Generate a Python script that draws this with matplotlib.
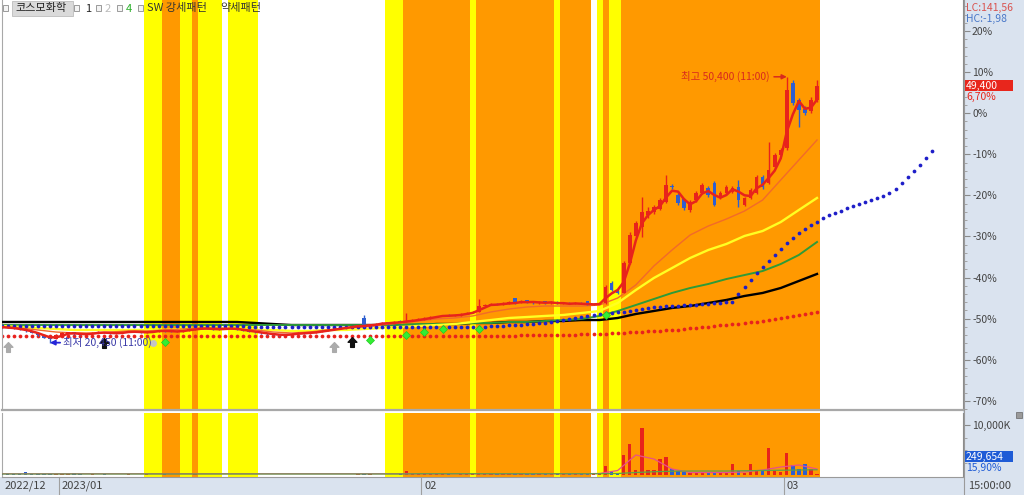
import numpy as np
import pandas as pd
import matplotlib
matplotlib.use("Agg")
import matplotlib.pyplot as plt
from matplotlib.patches import Rectangle
from matplotlib.lines import Line2D
from matplotlib.path import Path
from matplotlib.ticker import FixedLocator, FuncFormatter, NullFormatter
import matplotlib.transforms as mtransforms

plt.rcParams['font.family'] = ['Noto Sans CJK KR', 'DejaVu Sans']
plt.rcParams['axes.unicode_minus'] = False

# ---------------- data (2-hour bars, 3 per trading day) ----------------
stock_name = "코스모화학"
base_price = 46300          # price at 0 % on the right axis
month_labels = ["2022/12", "2023/01", "02", "03"]
month_start_bar = [0, 10, 70, 130]
last_time = "15:00:00"

opens = [22300, 22200, 22050, 22000, 21850, 21750, 21500, 21250, 21000, 20900,
         21300, 21450, 21600, 21400, 21350, 21450, 21550, 21650, 21550, 21450,
         21550, 21650, 21750, 21650, 21550, 21650, 21750, 21850, 21750, 21650,
         21750, 21850, 21950, 22000, 22100, 22000, 21900, 22000, 22100, 22000,
         21900, 21800, 21700, 21600, 21500, 21400, 21350, 21300, 21350, 21450,
         21550, 21500, 21600, 21700, 21800, 21900, 22000, 22100, 22200, 22300,
         23200, 22300, 22500, 22600, 22750, 22600, 22850, 22800, 22900, 23000,
         23100, 23200, 23350, 23450, 23600, 23450, 23550, 23700, 23800, 23950,
         24600, 24700, 24850, 24700, 24900, 25450, 24950, 25250, 25050, 24900,
         25100, 24900, 25050, 24800, 24950, 24800, 24950, 25100, 24700, 24800,
         24900, 27150, 26350, 26100, 29400, 32500, 33500, 34800, 35200, 35500,
         36300, 38050, 37100, 36600, 35400, 36500, 37300, 37900, 38400, 36750,
         37300, 37400, 38000, 35950, 36750, 37300, 39100, 38450, 40250, 41600,
         42400, 49700, 47800, 46800, 46500, 47800]
highs = [22400, 22250, 22150, 22050, 21950, 21800, 21550, 21300, 21050, 21400,
         21600, 21700, 21650, 21450, 21550, 21650, 21750, 21700, 21600, 21600,
         21700, 21800, 21800, 21700, 21700, 21800, 21900, 21900, 21800, 21800,
         21900, 22000, 22100, 22200, 22150, 22050, 22050, 22200, 22150, 22050,
         21950, 21850, 21750, 21650, 21550, 21450, 21400, 21400, 21500, 21600,
         21600, 21650, 21750, 21850, 21950, 22050, 22150, 22250, 22350, 22450,
         23550, 22550, 22650, 22800, 22800, 22850, 23000, 23800, 23100, 23200,
         23300, 23400, 23500, 23600, 23650, 23600, 23750, 23850, 24000, 25400,
         24800, 24900, 24900, 25000, 25100, 25500, 25300, 25300, 25100, 25150,
         25150, 25100, 25100, 25000, 25000, 25000, 25000, 25200, 24900, 25000,
         26900, 27400, 26400, 29600, 32900, 34100, 36850, 35700, 36000, 36700,
         39350, 38300, 37300, 36700, 36500, 37500, 38400, 38100, 38700, 37500,
         38200, 38100, 38800, 36900, 37900, 39300, 39300, 43100, 41800, 42400,
         50400, 50000, 48000, 47100, 48100, 50050]
lows = [22150, 22050, 21950, 21850, 21700, 21500, 21250, 20950, 20450, 20850,
        21250, 21400, 21350, 21300, 21300, 21400, 21500, 21500, 21400, 21400,
        21500, 21600, 21600, 21500, 21500, 21600, 21700, 21700, 21600, 21600,
        21700, 21800, 21900, 21950, 21950, 21850, 21850, 21950, 21950, 21850,
        21750, 21650, 21550, 21450, 21350, 21300, 21250, 21250, 21300, 21400,
        21450, 21450, 21550, 21650, 21750, 21850, 21950, 22050, 22150, 22250,
        22250, 22250, 22450, 22550, 22550, 22550, 22750, 22750, 22850, 22950,
        23050, 23150, 23300, 23400, 23400, 23400, 23500, 23650, 23750, 23900,
        24550, 24650, 24650, 24650, 24850, 24750, 24900, 24950, 24850, 24850,
        24850, 24850, 24750, 24750, 24750, 24750, 24750, 24650, 24650, 24750,
        24850, 26300, 25950, 26000, 29300, 32300, 32350, 34500, 35000, 35400,
        36200, 37800, 36000, 35400, 35200, 36300, 37200, 36900, 35800, 36600,
        37200, 37300, 35750, 35800, 36600, 37200, 37800, 38300, 40100, 41500,
        42200, 47200, 44750, 46100, 46300, 47600]
closes = [22200, 22100, 22000, 21900, 21750, 21550, 21300, 21000, 20850, 21300,
          21500, 21600, 21400, 21350, 21450, 21550, 21650, 21550, 21450, 21550,
          21650, 21750, 21650, 21550, 21650, 21750, 21850, 21750, 21650, 21750,
          21850, 21950, 22000, 22100, 22000, 21900, 22000, 22100, 22000, 21900,
          21800, 21700, 21600, 21500, 21400, 21350, 21300, 21350, 21450, 21550,
          21500, 21600, 21700, 21800, 21900, 22000, 22100, 22200, 22300, 22400,
          22300, 22500, 22600, 22700, 22600, 22800, 22800, 22900, 23000, 23100,
          23200, 23350, 23450, 23550, 23450, 23550, 23700, 23800, 23900, 24600,
          24700, 24800, 24700, 24900, 25000, 24850, 25200, 25000, 24900, 25050,
          24900, 25000, 24800, 24900, 24800, 24900, 24800, 24700, 24800, 24900,
          26700, 26400, 26050, 29400, 32550, 33900, 35200, 35300, 35700, 36500,
          38200, 38000, 36200, 35600, 36300, 37300, 38200, 37100, 35950, 37300,
          38000, 37900, 36500, 36750, 37650, 39100, 38000, 39900, 41600, 42150,
          48900, 47450, 46650, 46300, 47800, 49400]
volumes = [150000, 200000, 150000, 250000, 550000, 200000, 150000, 200000, 250000, 150000,
           200000, 150000, 350000, 150000, 100000, 150000, 100000, 150000, 100000, 100000,
           100000, 150000, 100000, 100000, 150000, 100000, 100000, 250000, 100000, 100000,
           100000, 100000, 150000, 100000, 100000, 100000, 100000, 100000, 100000, 100000,
           100000, 100000, 100000, 100000, 100000, 100000, 100000, 100000, 100000, 100000,
           100000, 100000, 100000, 100000, 100000, 100000, 100000, 100000, 100000, 200000,
           250000, 150000, 100000, 100000, 100000, 100000, 200000, 800000, 300000, 200000,
           150000, 200000, 150000, 150000, 150000, 100000, 150000, 150000, 200000, 400000,
           250000, 200000, 150000, 200000, 250000, 300000, 250000, 200000, 150000, 150000,
           150000, 150000, 150000, 150000, 150000, 200000, 200000, 300000, 200000, 200000,
           1800000, 700000, 400000, 4000000, 6300000, 1000000, 9500000, 1000000, 1100000, 3300000,
           3700000, 1200000, 800000, 600000, 400000, 500000, 500000, 400000, 500000, 400000,
           500000, 2200000, 800000, 500000, 2200000, 1000000, 800000, 5500000, 900000, 700000,
           4500000, 2100000, 1300000, 2200000, 1200000, 249654]

# moving averages, one value per trading day (every third bar)
ma_orange = [22220, 22100, 21880, 21650, 21540, 21540, 21650, 21770, 21770, 21880,
             21990, 22100, 22100, 21990, 21880, 21650, 21540, 21650, 21880, 22100,
             22220, 22440, 22670, 22890, 23120, 23230, 23460, 23910, 24240, 24470,
             24580, 24580, 24580, 24690, 25480, 26950, 29090, 30890, 32580, 33590,
             34380, 35280, 36520, 38780, 41030, 43280]
ma_yellow = [22330, 22220, 22100, 21990, 21880, 21880, 21880, 21880, 21880, 21880,
             21990, 21990, 21990, 21990, 21880, 21880, 21770, 21770, 21880, 21880,
             21990, 22100, 22220, 22330, 22440, 22550, 22780, 23000, 23230, 23340,
             23460, 23570, 23790, 24020, 24920, 26380, 27740, 28860, 29990, 30890,
             31570, 32470, 33030, 34040, 35400, 36750]
ma_green = [22440, 22440, 22440, 22440, 22440, 22440, 22440, 22440, 22440, 22440,
            22440, 22440, 22440, 22440, 22440, 22440, 22440, 22440, 22440, 22440,
            22440, 22440, 22440, 22550, 22550, 22550, 22670, 22670, 22780, 22780,
            22890, 23000, 23120, 23460, 24020, 24690, 25370, 26050, 26610, 27060,
            27620, 28070, 28520, 29310, 30330, 31790]
ma_black = [22780, 22780, 22780, 22780, 22780, 22780, 22780, 22780, 22780, 22780,
            22780, 22780, 22780, 22780, 22670, 22550, 22440, 22440, 22440, 22440,
            22440, 22440, 22440, 22440, 22550, 22550, 22670, 22670, 22780, 22780,
            22890, 22890, 23000, 23000, 23230, 23680, 24020, 24360, 24580, 24920,
            25260, 25710, 26050, 26610, 27400, 28190]
vol_ma_pink = [250000, 250000, 250000, 250000, 250000, 250000, 250000, 250000, 250000, 250000,
               250000, 250000, 250000, 250000, 250000, 250000, 250000, 250000, 250000, 250000,
               250000, 250000, 250000, 250000, 250000, 250000, 250000, 250000, 250000, 250000,
               250000, 250000, 250000, 300000, 900000, 4000000, 3200000, 1200000, 500000, 500000,
               500000, 600000, 1000000, 1600000, 2000000, 1200000]
vol_ma_green = [200000, 200000, 200000, 200000, 200000, 200000, 200000, 200000, 200000, 200000,
                200000, 200000, 200000, 200000, 200000, 200000, 200000, 200000, 200000, 200000,
                200000, 200000, 200000, 250000, 250000, 250000, 250000, 250000, 250000, 250000,
                250000, 250000, 250000, 250000, 300000, 500000, 650000, 750000, 800000, 800000,
                800000, 850000, 900000, 950000, 1000000, 1050000]

# blue dotted indicator (runs 19 bars ahead of the last candle)
blue_dots = [22330, 22330, 22330, 22330, 22330, 22330, 22330, 22330, 22330, 22330,
             22330, 22330, 22330, 22330, 22330, 22330, 22330, 22330, 22330, 22330,
             22330, 22330, 22330, 22330, 22330, 22330, 22330, 22330, 22330, 22330,
             22330, 22330, 22330, 22330, 22330, 22330, 22330, 22330, 22330, 22330,
             22330, 22220, 22220, 22220, 22220, 22220, 22220, 22220, 22220, 22220,
             22220, 22220, 22220, 22220, 22220, 22220, 22220, 22220, 22220, 22220,
             22220, 22220, 22220, 22220, 22220, 22220, 22220, 22220, 22220, 22220,
             22220, 22220, 22220, 22220, 22220, 22220, 22220, 22220, 22220, 22220,
             22220, 22330, 22330, 22330, 22440, 22440, 22440, 22550, 22550, 22670,
             22670, 22780, 22890, 23000, 23120, 23230, 23340, 23460, 23570, 23680,
             23790, 23790, 23910, 23910, 24020, 24130, 24240, 24360, 24470, 24470,
             24580, 24580, 24580, 24690, 24690, 24690, 24810, 24810, 24920, 24920,
             25030, 25030, 25930, 26720, 27510, 28300, 28980, 29650, 30330, 31000,
             31680, 32240, 32800, 33260, 33710, 34040, 34500, 34830, 35060, 35280,
             35620, 35850, 36070, 36300, 36520, 36750, 36970, 37310, 37760, 38440,
             39110, 39790, 40470, 41260, 42040]
# red dotted long average
red_dots = [21200, 21200, 21200, 21200, 21200, 21200, 21200, 21200, 21200, 21200,
            21200, 21200, 21200, 21200, 21200, 21200, 21200, 21200, 21200, 21200,
            21200, 21200, 21200, 21200, 21200, 21200, 21200, 21200, 21200, 21200,
            21200, 21200, 21200, 21200, 21200, 21200, 21200, 21200, 21200, 21200,
            21200, 21200, 21200, 21200, 21200, 21200, 21200, 21200, 21200, 21200,
            21200, 21200, 21200, 21200, 21200, 21200, 21200, 21200, 21200, 21200,
            21200, 21200, 21200, 21200, 21200, 21200, 21200, 21200, 21200, 21200,
            21200, 21200, 21200, 21200, 21200, 21200, 21250, 21250, 21250, 21250,
            21250, 21250, 21250, 21250, 21250, 21250, 21320, 21320, 21320, 21320,
            21320, 21320, 21320, 21320, 21320, 21320, 21430, 21430, 21430, 21430,
            21430, 21540, 21540, 21540, 21650, 21650, 21650, 21770, 21770, 21770,
            21880, 21880, 21880, 21990, 22050, 22100, 22160, 22220, 22330, 22390,
            22440, 22500, 22560, 22670, 22730, 22780, 22890, 23000, 23120, 23230,
            23340, 23460, 23570, 23680, 23790, 23910]

# pattern bands (bar ranges, inclusive)
band_start = [24, 27, 30, 32, 33, 38, 64, 67, 78, 79, 92, 93, 99, 100, 101, 103]
band_end = [26, 29, 31, 32, 36, 42, 66, 77, 78, 91, 92, 97, 99, 100, 102, 135]
band_kind = ["Y", "O", "Y", "O", "Y", "Y", "Y", "O", "Y", "O", "Y", "O", "Y", "O", "Y", "O"]

# signal markers
sig_gray_bar = [1, 55]
sig_gray_price = [19960, 19960]
sig_black_bar = [17, 58]
sig_black_price = [20410, 20530]
sig_green_bar = [27, 61, 67, 70, 73, 79, 100]
sig_green_price = [20530, 20750, 21310, 21650, 21990, 21990, 23570]
sig_circle_bar = [25]
sig_circle_price = [20410]

low_bar, low_price, low_time = 8, 20450, "11:00"
high_bar, high_price, high_time = 130, 50400, "11:00"

lc_text = "LC:141,56"
hc_text = "HC:-1,98"
vol_ratio_text = "15,90%"

# ---------------- layout ----------------
W, H = 1024, 495
fig = plt.figure(figsize=(W / 100, H / 100), dpi=100)
fig.patch.set_facecolor("white")


def fx(px):
    return px / W


def fy(py):
    return 1 - py / H


PANEL = "#DAE3EF"
fig.add_artist(Rectangle((fx(963), 0), 1 - fx(963), 1, transform=fig.transFigure,
                         fc=PANEL, ec="none", zorder=-10))
fig.add_artist(Rectangle((0, 0), 1, fy(477), transform=fig.transFigure,
                         fc=PANEL, ec="none", zorder=-10))

PL, PR = 2, 963
PITCH, X0 = 6.04, 1.6
ax = fig.add_axes([fx(PL), fy(410), fx(PR) - fx(PL), 410 / H])
axv = fig.add_axes([fx(PL), fy(477), fx(PR) - fx(PL), (477 - 413) / H])
for a in (ax, axv):
    a.set_xlim((PL - X0) / PITCH, (PR - X0) / PITCH)
    a.set_facecolor("white")
ax.set_ylim(12865, 59052)
axv.set_ylim(-400000, 12400000)

o = np.array(opens, float)
h = np.array(highs, float)
l = np.array(lows, float)
c = np.array(closes, float)
v = np.array(volumes, float)
idx = np.arange(len(c))
ma_x = idx[::3]

# bands
band_col = {"Y": "#FFFF00", "O": "#FF9900"}
for s, e, k in zip(band_start, band_end, band_kind):
    for a in (ax, axv):
        a.axvspan(s - 0.5, e + 0.5, color=band_col[k], lw=0, zorder=0)

# indicator lines
ax.plot(np.arange(len(red_dots)), red_dots, ls="none", marker="o", ms=2.7,
        mfc="#E8221E", mec="none", zorder=2)
ax.plot(ma_x, ma_black, color="black", lw=1.7, zorder=3)
ax.plot(ma_x, ma_green, color="#2E9B38", lw=1.4, zorder=3)
ax.plot(ma_x, ma_yellow, color="#FFFF22", lw=1.7, zorder=3)
ax.plot(ma_x, ma_orange, color="#F26A2A", lw=1.0, zorder=3)
ax.plot(np.arange(len(blue_dots)), blue_dots, ls="none", marker="o", ms=2.7,
        mfc="#1E1EC8", mec="none", zorder=3.5)

# candles
RED, BLUE = "#E8231B", "#2E5FD0"
up = c >= o
ccol = np.where(up, RED, BLUE)
ax.vlines(idx, l, h, colors=ccol, lw=1.0, zorder=4)
ax.bar(idx, np.maximum(np.abs(c - o), 60), bottom=np.minimum(o, c), width=0.6,
       color=ccol, lw=0, zorder=4)

# fast average of closes (thick red line)
ma_fast = pd.Series(c).rolling(3, min_periods=1).mean()
ax.plot(idx, ma_fast, color="#E8231B", lw=1.8, zorder=4.5, solid_capstyle="round")

# signal markers
arrow_marker = Path([(0, 1), (-0.9, 0.05), (-0.38, 0.05), (-0.38, -1), (0.38, -1),
                     (0.38, 0.05), (0.9, 0.05), (0, 1)], closed=True)
ax.plot(sig_gray_bar, sig_gray_price, ls="none", marker=arrow_marker, ms=7,
        color="#ABABAB", zorder=6)
ax.plot(sig_black_bar, sig_black_price, ls="none", marker=arrow_marker, ms=7,
        color="#111111", zorder=6)
ax.plot(sig_green_bar, sig_green_price, ls="none", marker="D", ms=4.2,
        mfc="#33EE33", mec="#22CC22", mew=0.5, zorder=6)
ax.plot(sig_circle_bar, sig_circle_price, ls="none", marker="o", ms=5,
        mfc="#C4C4C4", mec="none", zorder=5.5)

# annotations for high / low
ax.annotate(f"최저 {low_price:,} ({low_time})", xy=(low_bar, low_price),
            xytext=(13, 0), textcoords="offset pixels", ha="left", va="center",
            fontsize=7.5, color="#3A3AA8", zorder=7,
            arrowprops=dict(arrowstyle="-|>", color="#2424D8", lw=1.3,
                            shrinkA=0, shrinkB=0, mutation_scale=7))
ax.annotate(f"최고 {high_price:,} ({high_time})", xy=(high_bar, high_price),
            xytext=(-17, 0), textcoords="offset pixels", ha="right", va="center",
            fontsize=7.5, color="#D82A1E", zorder=7,
            arrowprops=dict(arrowstyle="-|>", color="#D82A1E", lw=1.1,
                            shrinkA=1, shrinkB=0, mutation_scale=7))

# volume
vcol = np.where(up, RED, BLUE)
axv.bar(idx, v, width=0.55, color=vcol, lw=0, zorder=3)
axv.plot(ma_x, vol_ma_pink, color="#E8508A", lw=0.9, zorder=4)
axv.plot(ma_x, vol_ma_green, color="#5DA04A", lw=0.9, zorder=4)

# axes styling
pct_major = np.arange(-70, 21, 10)
ax.yaxis.set_major_locator(FixedLocator(base_price * (1 + pct_major / 100)))
ax.yaxis.set_minor_locator(FixedLocator(base_price * (1 + np.arange(-72, 27, 2) / 100)))
ax.yaxis.set_major_formatter(FuncFormatter(lambda val, p: f"{round((val / base_price - 1) * 100):d}%"))
ax.yaxis.set_minor_formatter(NullFormatter())
for a in (ax, axv):
    a.yaxis.tick_right()
    a.tick_params(axis="y", which="major", direction="out", length=5, width=0.8,
                  color="#8A8A8A", labelsize=7.5, labelcolor="#444444", pad=1.5)
    a.tick_params(axis="y", which="minor", direction="out", length=3, width=0.6,
                  color="#9A9A9A")
    a.tick_params(axis="x", which="both", bottom=False, labelbottom=False)
    a.spines["top"].set_visible(False)
    a.spines["left"].set_color("#A8A8A8")
    a.spines["right"].set_color("#8C8C8C")
    a.spines["right"].set_linewidth(0.8)
ax.spines["bottom"].set_color("#A8A8A8")
ax.spines["bottom"].set_linewidth(1.6)
axv.spines["bottom"].set_color("#9A9A9A")
axv.yaxis.set_major_locator(FixedLocator([10_000_000]))
axv.yaxis.set_minor_locator(FixedLocator([2_500_000, 5_000_000, 7_500_000]))
axv.yaxis.set_major_formatter(FuncFormatter(lambda val, p: f"{int(val / 1000):,}K"))
axv.yaxis.set_minor_formatter(NullFormatter())

# right-edge separator line through whole height
fig.add_artist(Line2D([fx(963.5), fx(963.5)], [0, 1], transform=fig.transFigure,
                      color="#9A9A9A", lw=0.8, zorder=20))

# date strip
blend = mtransforms.blended_transform_factory(axv.transData, fig.transFigure)
for lab, sb in zip(month_labels, month_start_bar):
    xe = sb - 0.5
    if sb > 0:
        axv.add_line(Line2D([xe, xe], [0, fy(477)], transform=blend, color="#A0A0A0",
                            lw=0.8, clip_on=False))
    t = mtransforms.offset_copy(blend, fig=fig, x=3, y=0, units="dots")
    axv.text(max(xe, axv.get_xlim()[0]), fy(486), lab, transform=t, ha="left",
             va="center", fontsize=8, color="#444444", clip_on=False)
fig.text(fx(968), fy(486), last_time, ha="left", va="center", fontsize=8, color="#444444")

# top-left legend row
def icon(px):
    fig.add_artist(Rectangle((fx(px), fy(11)), 5 / W, 6 / H, transform=fig.transFigure,
                             fc="#F4F4F4", ec="#8C8C8C", lw=0.6, zorder=30))


fig.add_artist(Rectangle((fx(12), fy(16)), 61 / W, 15 / H, transform=fig.transFigure,
                         fc="#DADADA", ec="#BDBDBD", lw=0.6, zorder=29))
for px in (3, 74, 96, 117, 138):
    icon(px)
fig.text(fx(15), fy(8.5), stock_name, fontsize=8, color="#222222", va="center", zorder=31)
fig.text(fx(85), fy(8.5), "1", fontsize=8, color="#222222", va="center", zorder=31)
fig.text(fx(105), fy(8.5), "2", fontsize=8, color="#BBBBBB", va="center", zorder=31)
fig.text(fx(126), fy(8.5), "4", fontsize=8, color="#2BB02B", va="center", zorder=31)
fig.text(fx(147), fy(8.5), "SW 강세패턴", fontsize=8, color="#333333", va="center", zorder=31)
fig.text(fx(220), fy(8.5), "약세패턴", fontsize=8, color="#333333", va="center", zorder=31)

# right-panel labels
fig.text(fx(966), fy(8), lc_text, fontsize=7.5, color="#D9534F", va="center", zorder=31)
fig.text(fx(966), fy(19), hc_text, fontsize=7.5, color="#4A78C8", va="center", zorder=31)

last_close = closes[-1]
y_last = ax.transData.transform((0, last_close))[1] / fig.bbox.height
fig.add_artist(Rectangle((fx(964.5), y_last - 5.5 / H), 48 / W, 11 / H,
                         transform=fig.transFigure, fc="#E8261C", ec="none", zorder=30))
fig.text(fx(966), y_last, f"{last_close:,}", fontsize=7.5, color="white", va="center", zorder=31)
pct_last = (last_close / base_price - 1) * 100
fig.text(fx(966), y_last - 11.5 / H, f"{pct_last:.2f}%".replace(".", ","), fontsize=7.5,
         color="#E8261C", va="center", zorder=31)

fig.add_artist(Rectangle((fx(1016), fy(418)), 6 / W, 6 / H, transform=fig.transFigure,
                         fc="#9A9A9A", ec="#666666", lw=0.5, zorder=30))
fig.add_artist(Rectangle((fx(964.5), fy(462)), 48 / W, 11 / H, transform=fig.transFigure,
                         fc="#1E5BD6", ec="none", zorder=30))
fig.text(fx(966), fy(456.5), f"{volumes[-1]:,}", fontsize=7.5, color="white", va="center", zorder=31)
fig.text(fx(966), fy(468), vol_ratio_text, fontsize=7.5, color="#1E5BD6", va="center", zorder=31)

fig.savefig("out.png", dpi=100, facecolor=fig.get_facecolor())
